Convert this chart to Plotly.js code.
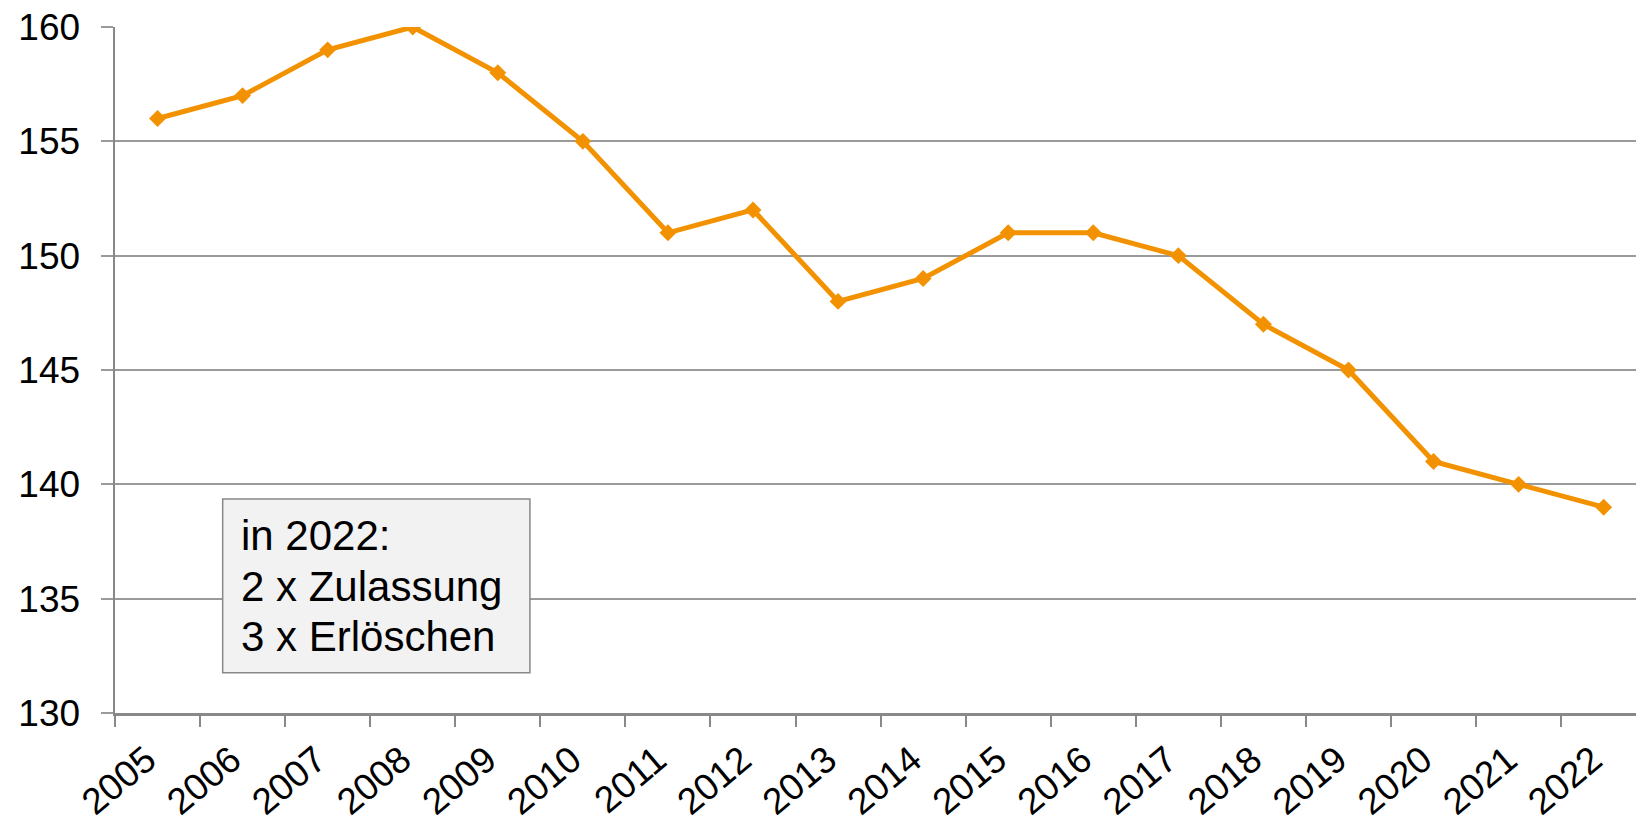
<!DOCTYPE html>
<html>
<head>
<meta charset="utf-8">
<script src="https://cdn.plot.ly/plotly-3.0.1.min.js"></script>
<style>html,body{margin:0;padding:0;background:#fff;}#chart{width:1636px;height:822px;}</style>
</head>
<body>
<div id="chart"></div>
<script>
const years = ['2005','2006','2007','2008','2009','2010','2011','2012','2013','2014','2015','2016','2017','2018','2019','2020','2021','2022'];
const values = [156,157,159,160,158,155,151,152,148,149,151,151,150,147,145,141,140,139];
const yTicks = [130,135,140,145,150,155,160];
const noteLines = ['in 2022:','2 x Zulassung','3 x Erlöschen'];

const FONT = 'Liberation Sans, Arial, sans-serif';
const GRAY = '#888888';
const GRID = '#9a9a9a';
const ORANGE = '#F39200';

const noteY = [0.259, 0.1847, 0.1108];
const annotations = noteLines.map((t, i) => ({
  text: t, xref: 'paper', yref: 'paper', x: 0.0815, y: noteY[i],
  xanchor: 'left', yanchor: 'middle', showarrow: false,
  font: {family: FONT, size: 42, color: '#000'}
}));

const trace = {
  x: years, y: values, type: 'scatter', mode: 'lines+markers',
  line: {color: ORANGE, width: 5},
  marker: {symbol: 'diamond', size: 13, color: ORANGE},
  hoverinfo: 'x+y'
};

const layout = {
  width: 1636, height: 822,
  margin: {l: 115, r: 0, t: 27, b: 109, pad: 0},
  paper_bgcolor: '#fff', plot_bgcolor: '#fff',
  showlegend: false,
  font: {family: FONT, color: '#000'},
  xaxis: {
    type: 'category', range: [-0.5, 17.38],
    tickson: 'boundaries', ticks: 'outside', ticklen: 11, tickwidth: 2, tickcolor: GRAY,
    showline: true, linecolor: GRAY, linewidth: 2.5,
    showgrid: false, tickangle: -40,
    tickfont: {family: FONT, size: 37, color: '#000'},
    ticklabelstandoff: 8, ticklabelshift: -11
  },
  yaxis: {
    range: [130, 160], tickvals: yTicks, ticktext: yTicks.map(String),
    ticks: 'outside', ticklen: 12, tickwidth: 2, tickcolor: GRID,
    showline: true, linecolor: GRAY, linewidth: 2.5,
    showgrid: true, gridcolor: GRID, gridwidth: 2, zeroline: false,
    tickfont: {family: FONT, size: 37, color: '#000'},
    ticklabelstandoff: 13
  },
  shapes: [{
    type: 'rect', xref: 'paper', yref: 'paper',
    x0: 0.0708, x1: 0.2728, y0: 0.0587, y1: 0.3121,
    fillcolor: '#F2F2F2', line: {color: GRAY, width: 1.5}, layer: 'above'
  }],
  annotations: annotations
};

Plotly.newPlot('chart', [trace], layout, {displayModeBar: false, staticPlot: true});
</script>
</body>
</html>
